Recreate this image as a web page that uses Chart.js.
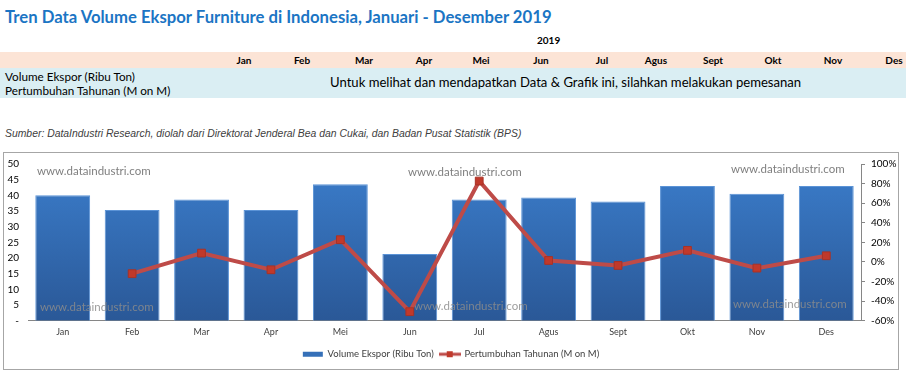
<!DOCTYPE html>
<html>
<head>
<meta charset="utf-8">
<script src="https://cdn.jsdelivr.net/npm/chart.js@4.4.1/dist/chart.umd.min.js"></script>
<style>
    body { margin: 0; width: 907px; height: 374px; background: #fff; position: relative; overflow: hidden; font-family: Lato, "Open Sans", sans-serif; }
    .abs { position: absolute; white-space: nowrap; }
    #title { left: 5px; top: 7px; font-size: 16.7px; font-weight: bold; color: #1B75C4; }
    #year { left: 537px; top: 34px; font-size: 10px; font-weight: bold; color: #000; }
    #head-row { left: 0; top: 52px; width: 906px; height: 16px; background: #FCE4D6; }
    #info-row { left: 0; top: 68px; width: 906px; height: 30px; background: #DAEEF3; }
    .mon { font-size: 10px; font-weight: bold; color: #000; top: 54px; transform: translateX(-50%); }
    .rowlbl { left: 5px; font-size: 11.7px; color: #000; }
    #msg { left: 330px; top: 74px; font-size: 13.1px; color: #000; }
    #source { left: 5px; top: 128px; font-size: 10.4px; font-style: italic; color: #404040; font-family: "Liberation Sans", Arial, sans-serif; }
    #box { left: 3px; top: 152px; width: 894px; height: 216px; border: 1px solid #A6A6A6; }
    #chart { position: absolute; left: 0; top: -4px; }
</style>
</head>
<body>
<div id="title" class="abs">Tren Data Volume Ekspor Furniture di Indonesia, Januari - Desember 2019</div>
<div id="year" class="abs">2019</div>
<div id="head-row" class="abs"></div>
<div id="info-row" class="abs"></div>
<div class="abs rowlbl" style="top:69px">Volume Ekspor (Ribu Ton)</div>
<div class="abs rowlbl" style="top:83px">Pertumbuhan Tahunan (M on M)</div>
<div id="msg" class="abs">Untuk melihat dan mendapatkan Data &amp; Grafik ini, silahkan melakukan pemesanan</div>
<div id="source" class="abs">Sumber: DataIndustri Research, diolah dari Direktorat Jenderal Bea dan Cukai, dan Badan Pusat Statistik (BPS)</div>
<div id="box" class="abs"><canvas id="chart" width="894" height="220"></canvas></div>

<script>
const months = ['Jan', 'Feb', 'Mar', 'Apr', 'Mei', 'Jun', 'Jul', 'Agus', 'Sept', 'Okt', 'Nov', 'Des'];
const volume = [40.0, 35.3, 38.7, 35.3, 43.5, 21.3, 38.7, 39.3, 38.0, 43.0, 40.5, 43.0];
const growth = [null, -12, 9, -8, 22.7, -50.8, 82.6, 1.5, -3.6, 11.8, -6.3, 6.3];
const volumeTicks = { min: 0, max: 50, step: 5 };
const growthTicks = { min: -60, max: 100, step: 20 };

// header month labels (table above the chart)
const headerX = [244, 302, 364, 424, 481, 541, 602, 656, 713, 773, 833, 894];
months.forEach((m, i) => {
    const el = document.createElement('div');
    el.className = 'abs mon';
    el.style.left = headerX[i] + 'px';
    el.textContent = m;
    document.body.appendChild(el);
});

// legend swatch for the line series: line with square marker
const lineSwatch = document.createElement('canvas');
lineSwatch.width = 22;
lineSwatch.height = 8;
{
    const c = lineSwatch.getContext('2d');
    c.strokeStyle = '#BE4B48';
    c.lineWidth = 3;
    c.beginPath();
    c.moveTo(0, 4);
    c.lineTo(22, 4);
    c.stroke();
    c.fillStyle = '#C0392B';
    c.fillRect(8, 1, 6, 6);
}

const watermarks = [
    { x: 33, y: 22, color: '#7F7F7F' },
    { x: 404, y: 23, color: '#7F7F7F' },
    { x: 727, y: 20, color: '#7F7F7F' },
    { x: 36, y: 158, color: 'rgba(140,140,140,0.85)' },
    { x: 410, y: 157, color: 'rgba(140,140,140,0.85)' },
    { x: 729, y: 155, color: 'rgba(140,140,140,0.85)' }
];

const watermarkPlugin = {
    id: 'watermark',
    afterDatasetDraw(chart, args) {
        if (args.index !== 0) return;
        const ctx = chart.ctx;
        ctx.save();
        ctx.font = '11.5px Lato, "Open Sans", sans-serif';
        ctx.textBaseline = 'middle';
        ctx.textAlign = 'left';
        watermarks.forEach(w => {
            ctx.fillStyle = w.color;
            ctx.fillText('www.dataindustri.com', w.x, w.y);
        });
        ctx.restore();
    }
};

function barGradient(context) {
    const area = context.chart.chartArea;
    if (!area) return '#3570B8';
    const g = context.chart.ctx.createLinearGradient(0, area.top, 0, area.bottom);
    g.addColorStop(0, '#3B7DCB');
    g.addColorStop(1, '#2A5897');
    return g;
}

const ctx = document.getElementById('chart').getContext('2d');

const chart = new Chart(ctx, {
    data: {
        labels: months,
        datasets: [
            {
                type: 'bar',
                label: 'Volume Ekspor (Ribu Ton)',
                data: volume,
                backgroundColor: barGradient,
                borderColor: '#5B93D6',
                borderWidth: 1,
                categoryPercentage: 1,
                barPercentage: 0.79,
                yAxisID: 'y',
                order: 1
            },
            {
                type: 'line',
                label: 'Pertumbuhan Tahunan (M on M)',
                data: growth,
                borderColor: '#BE4B48',
                borderWidth: 4,
                pointStyle: 'rect',
                pointRadius: 5.5,
                pointBackgroundColor: '#C0392B',
                pointBorderColor: '#A93226',
                pointBorderWidth: 1,
                tension: 0,
                yAxisID: 'y1',
                order: 0
            }
        ]
    },
    options: {
        responsive: false,
        animation: false,
        layout: {
            padding: { top: 2, left: 0, right: 0, bottom: 0 }
        },
        plugins: {
            tooltip: { enabled: false },
            legend: {
                position: 'bottom',
                labels: {
                    color: '#404040',
                    font: { family: 'Lato', size: 9.5 },
                    usePointStyle: true,
                    pointStyleWidth: 20,
                    boxHeight: 5,
                    padding: 6,
                    sort: (a, b) => a.datasetIndex - b.datasetIndex,
                    generateLabels(chart) {
                        const items = Chart.defaults.plugins.legend.labels.generateLabels(chart);
                        items.forEach(it => {
                            if (it.datasetIndex === 0) {
                                it.pointStyle = 'rect';
                                it.fillStyle = '#3570B8';
                                it.strokeStyle = '#3570B8';
                                it.lineWidth = 0;
                            } else {
                                it.pointStyle = lineSwatch;
                            }
                        });
                        return items;
                    }
                }
            }
        },
        scales: {
            x: {
                grid: { display: false, drawTicks: false },
                border: { display: true, color: '#868686' },
                ticks: { color: '#404040', font: { family: 'Lato', size: 9 }, padding: 6 }
            },
            y: {
                position: 'left',
                min: volumeTicks.min,
                max: volumeTicks.max,
                grid: { display: false, drawTicks: false },
                border: { display: false },
                ticks: {
                    stepSize: volumeTicks.step,
                    autoSkip: false,
                    color: '#000',
                    font: { family: 'Lato', size: 10 },
                    padding: 9,
                    callback: v => (v === 0 ? '-' : v)
                },
                afterFit(scale) { scale.width = 24; }
            },
            y1: {
                position: 'right',
                min: growthTicks.min,
                max: growthTicks.max,
                grid: { drawOnChartArea: false, color: '#868686', tickLength: 4 },
                border: { display: true, color: '#868686' },
                ticks: {
                    stepSize: growthTicks.step,
                    autoSkip: false,
                    color: '#000',
                    font: { family: 'Lato', size: 10 },
                    padding: 6,
                    callback: v => v + '%'
                },
                afterFit(scale) { scale.width = 37; }
            }
        }
    },
    plugins: [watermarkPlugin]
});
</script>
</body>
</html>
